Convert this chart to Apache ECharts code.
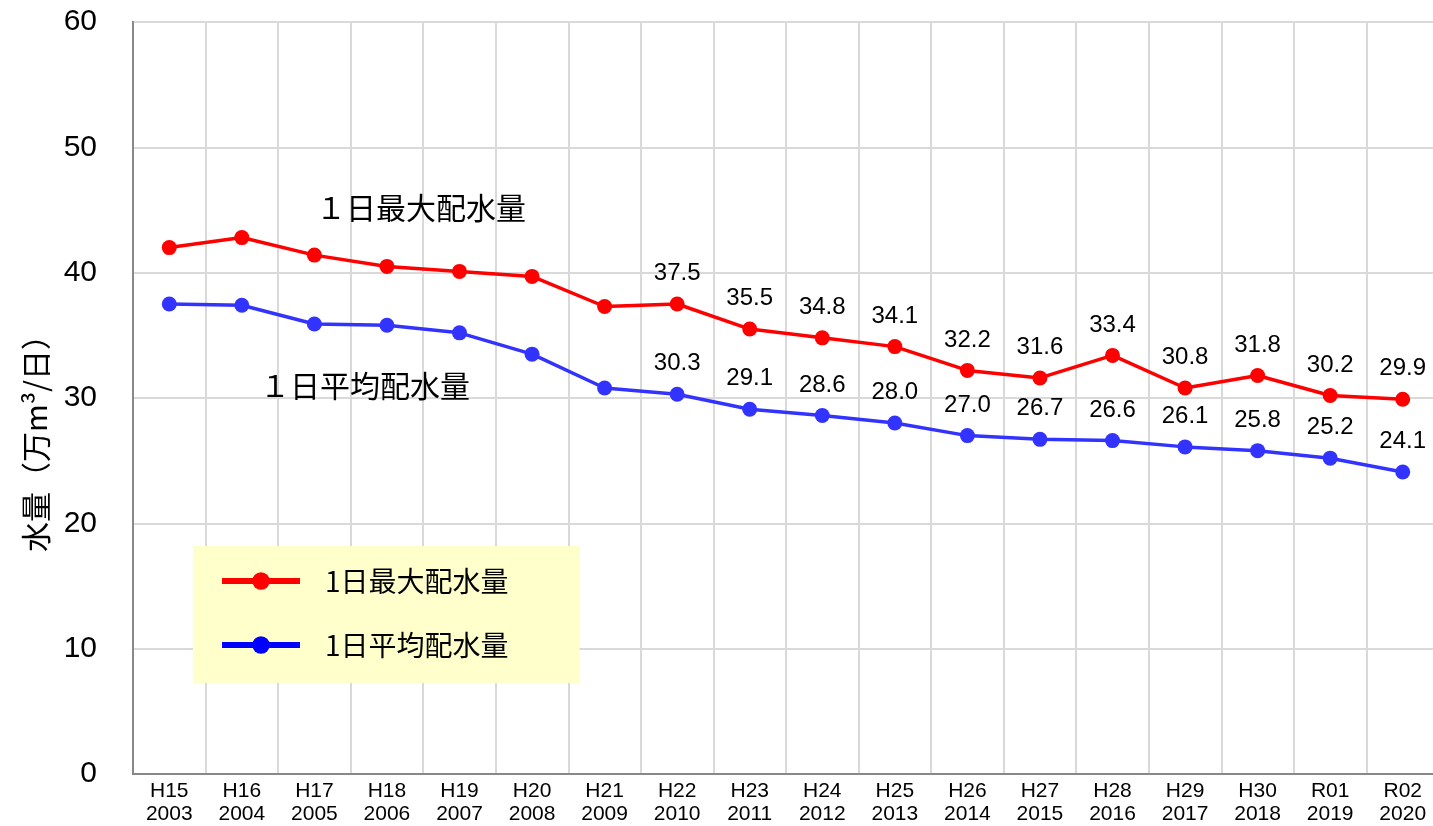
<!DOCTYPE html>
<html>
<head>
<meta charset="utf-8">
<script src="https://cdn.jsdelivr.net/npm/echarts@6/dist/echarts.min.js"></script>
<style>html,body{margin:0;padding:0;background:#fff;overflow:hidden}#c{width:1445px;height:826px}</style>
</head>
<body>
<div id="c"></div>
<script>
const eraLabels = ['H15','H16','H17','H18','H19','H20','H21','H22','H23','H24','H25','H26','H27','H28','H29','H30','R01','R02'];
const years = ['2003','2004','2005','2006','2007','2008','2009','2010','2011','2012','2013','2014','2015','2016','2017','2018','2019','2020'];
const maxName = '1日最大配水量';
const avgName = '1日平均配水量';
const maxValues = [42.0, 42.8, 41.4, 40.5, 40.1, 39.7, 37.3, 37.5, 35.5, 34.8, 34.1, 32.2, 31.6, 33.4, 30.8, 31.8, 30.2, 29.9];
const avgValues = [37.5, 37.4, 35.9, 35.8, 35.2, 33.5, 30.8, 30.3, 29.1, 28.6, 28.0, 27.0, 26.7, 26.6, 26.1, 25.8, 25.2, 24.1];
const yTicks = [0, 10, 20, 30, 40, 50, 60];
const firstLabelIndex = 7;

const categories = eraLabels.map((e, i) => e + '\n' + years[i]);
const FONT = '"Liberation Sans", "Noto Sans CJK JP", sans-serif';
const CJK = '"Noto Sans CJK JP", "Liberation Sans", sans-serif';

const chart = echarts.init(document.getElementById('c'));
const labelCfg = {
  show: true,
  position: 'top',
  distance: 11,
  fontSize: 24,
  color: '#000',
  fontFamily: FONT,
  formatter: p => p.dataIndex >= firstLabelIndex ? p.value.toFixed(1) : ''
};
chart.setOption({
  animation: false,
  textStyle: { fontFamily: FONT },
  grid: { left: 133, top: 22, width: 1306, height: 753, show: true, borderColor: '#888', borderWidth: 2, backgroundColor: 'transparent' },
  xAxis: {
    type: 'category',
    data: categories,
    boundaryGap: true,
    axisLine: { lineStyle: { color: '#888', width: 2 } },
    axisTick: { show: false },
    splitLine: { show: true, lineStyle: { color: '#d9d9d9', width: 2 } },
    axisLabel: { color: '#000', fontSize: 21, lineHeight: 23, margin: 6, fontFamily: FONT, interval: 0 }
  },
  yAxis: {
    type: 'value',
    min: yTicks[0],
    max: yTicks[yTicks.length - 1],
    interval: yTicks[1] - yTicks[0],
    axisLine: { show: true, lineStyle: { color: '#888', width: 2 } },
    axisTick: { show: false },
    splitLine: { show: true, lineStyle: { color: '#d9d9d9', width: 2 } },
    axisLabel: { color: '#000', fontSize: 30, margin: 36, fontFamily: FONT }
  },
  legend: {
    orient: 'vertical',
    left: 193,
    top: 546,
    padding: [18, 71, 21, 26],
    itemGap: 30,
    itemWidth: 78,
    itemHeight: 22,
    backgroundColor: '#ffffcc',
    textStyle: { fontSize: 28, color: '#000', lineHeight: 34, padding: [0, 0, 0, 20], fontFamily: CJK },
    data: [
      { name: maxName, itemStyle: { color: '#ff0000' }, lineStyle: { color: '#ff0000', width: 6 } },
      { name: avgName, itemStyle: { color: '#0000ff' }, lineStyle: { color: '#0000ff', width: 6 } }
    ]
  },
  graphic: [
    { type: 'text', z: 100, left: 316, top: 193, style: { text: '１日最大配水量', fontSize: 30, fill: '#000', fontFamily: CJK } },
    { type: 'text', z: 100, left: 260, top: 371, style: { text: '１日平均配水量', fontSize: 30, fill: '#000', fontFamily: CJK } },
    { type: 'text', z: 100, x: 36, y: 436, rotation: Math.PI / 2, style: { text: '水量（万m³/日）', fontSize: 30, fill: '#000', align: 'center', verticalAlign: 'middle', fontFamily: CJK } }
  ],
  series: [
    {
      name: maxName, type: 'line', data: maxValues,
      symbol: 'circle', symbolSize: 15,
      lineStyle: { color: '#ff0000', width: 3.5 },
      itemStyle: { color: '#ff0000' },
      label: labelCfg
    },
    {
      name: avgName, type: 'line', data: avgValues,
      symbol: 'circle', symbolSize: 15,
      lineStyle: { color: '#3333ff', width: 3.5 },
      itemStyle: { color: '#3333ff' },
      label: labelCfg
    }
  ]
});
</script>
</body>
</html>
